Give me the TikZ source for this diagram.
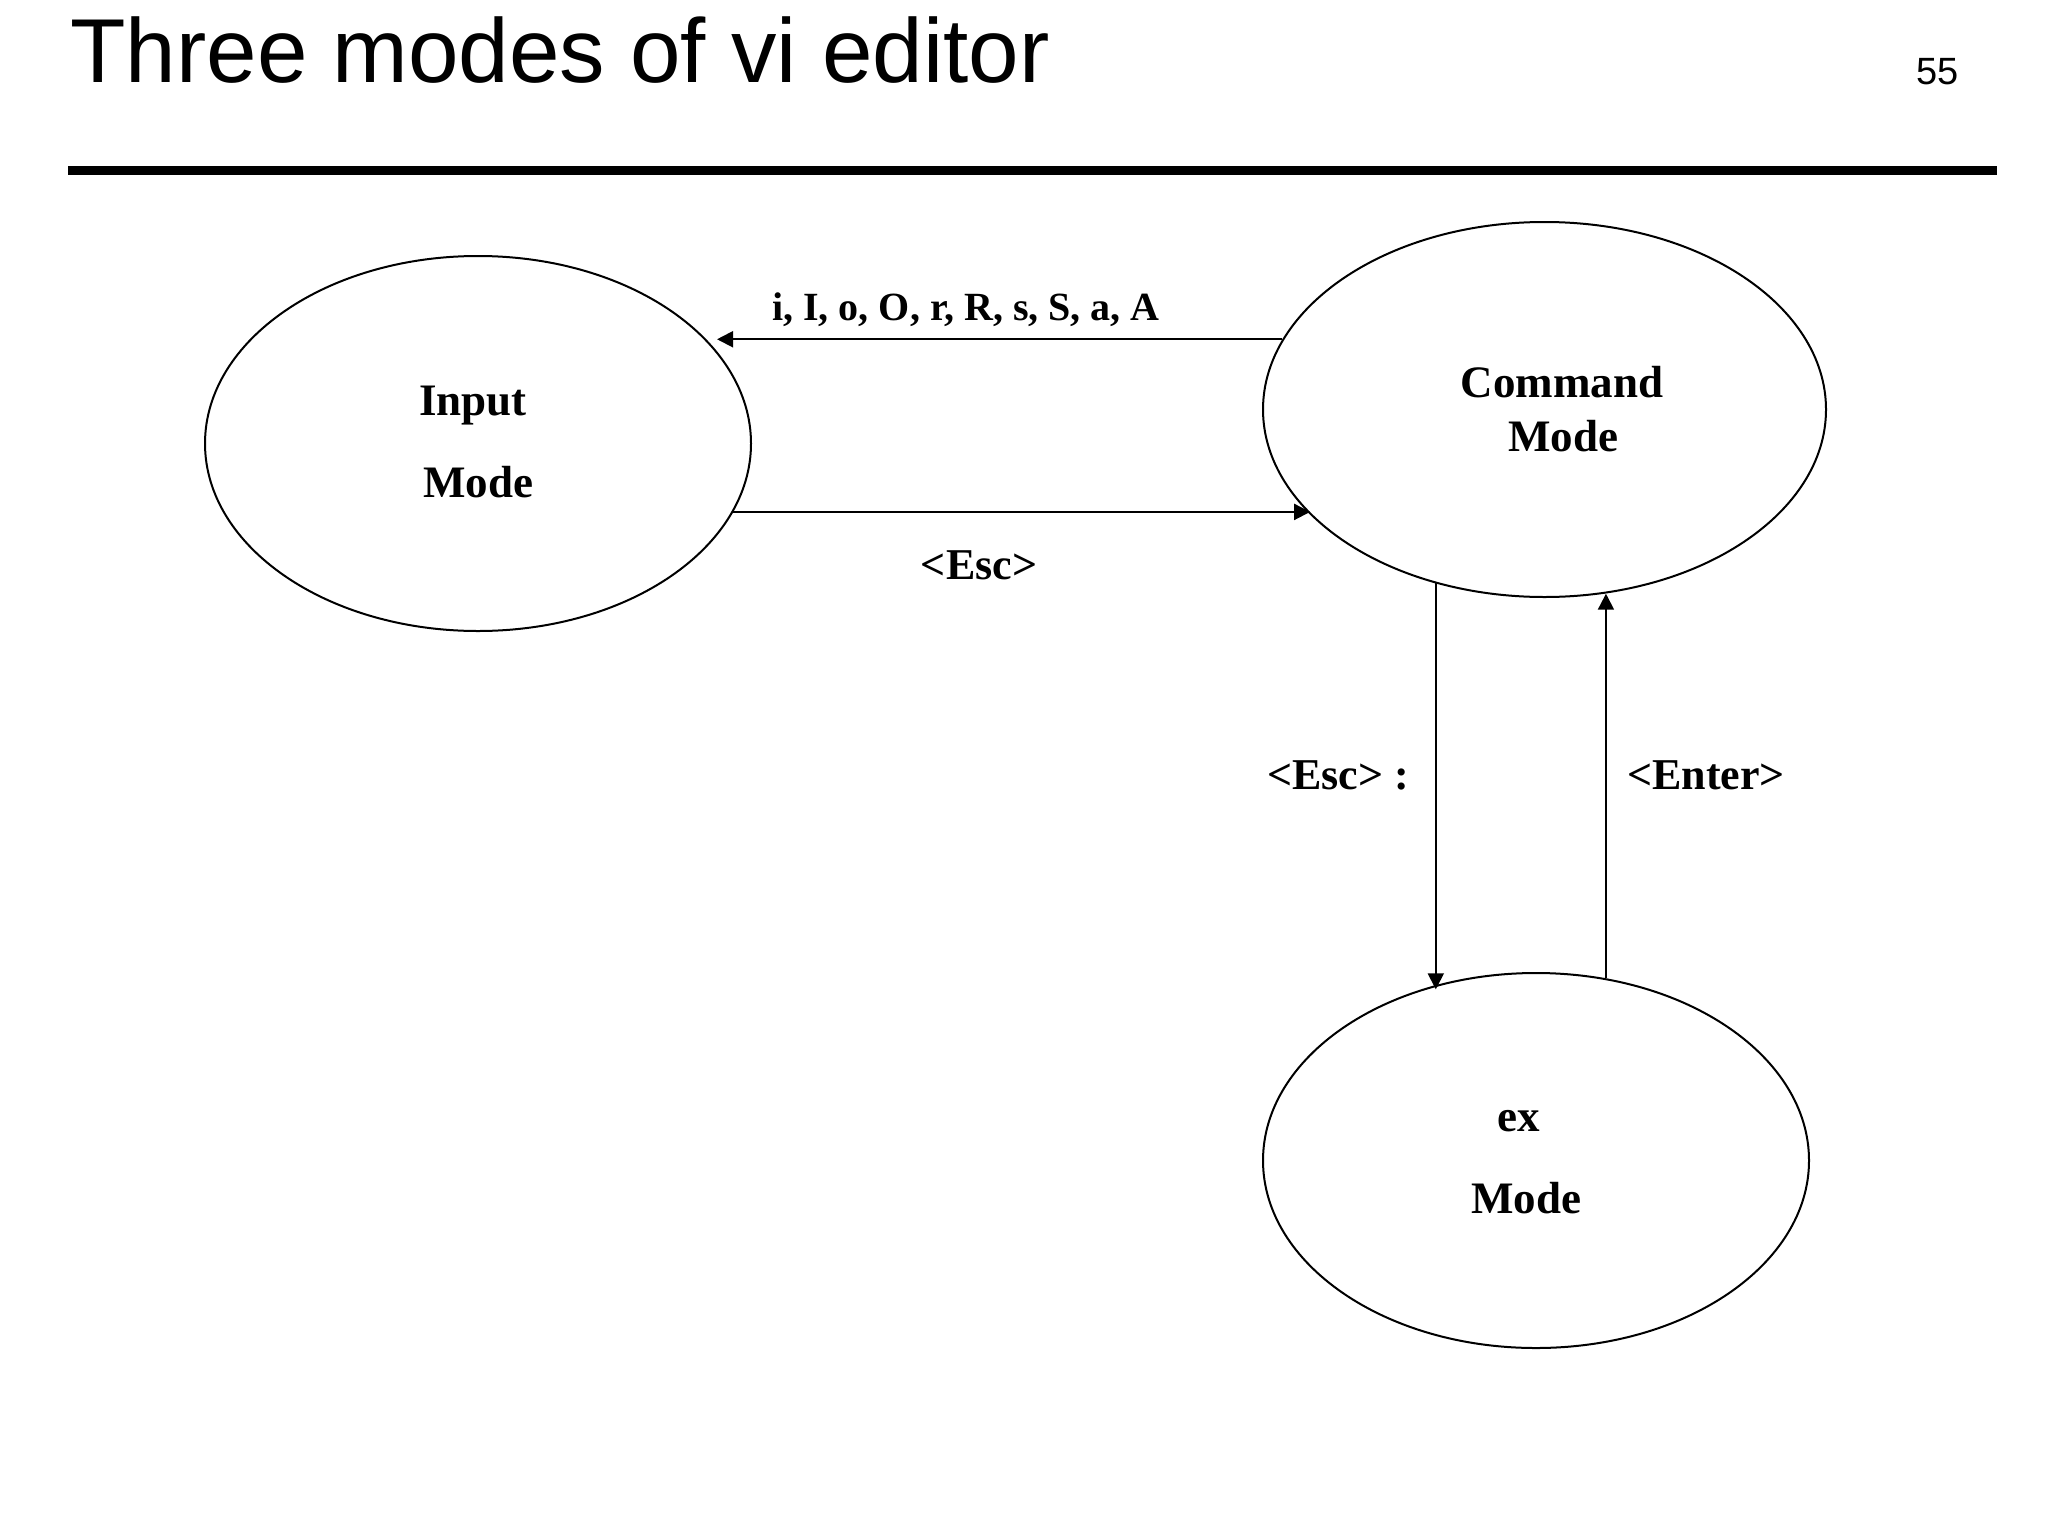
\documentclass[tikz,border=0pt]{standalone}
\usepackage{fontspec}
\setmainfont{Liberation Serif}
\newfontfamily\arialfont{Liberation Sans}
\usetikzlibrary{arrows.meta,shapes.geometric}
\begin{document}
\begin{tikzpicture}[x=0.5pt,y=-0.5pt,
  mode/.style={draw, ellipse, line width=1pt, inner sep=0pt, minimum height=187.5pt},
  lbl/.style={font=\fontsize{22.5pt}{27pt}\selectfont\bfseries, inner sep=0pt, anchor=base},
  elbl/.style={font=\fontsize{22pt}{26pt}\selectfont\bfseries, inner sep=0pt, anchor=base},
  conn/.style={line width=1pt, -{Triangle[length=8pt,width=8pt]}}
]
\fill[white] (0,0) rectangle (2048,1536);
\useasboundingbox (0,0) rectangle (2048,1536);

% title and rule
\node[anchor=base west, inner sep=0pt, font=\arialfont\fontsize{45.4pt}{50pt}\selectfont] (title) at (70,83) {Three modes of vi editor};
\node[anchor=base, inner sep=0pt, font=\arialfont\fontsize{19pt}{22pt}\selectfont] (page) at (1937.5,84) {55};
\draw[line width=4.5pt] (68,170) -- (1997,170);

% modes
\node[mode, minimum width=273pt] (Inp) at (478,443.5) {};
\node[mode, minimum width=281.5pt] (Cmd) at (1544.5,409.5) {};
\node[mode, minimum width=273pt] (Ex) at (1536,1160.5) {};

\node[lbl] (tInp1) at (473,415) {Input};
\node[lbl] (tInp2) at (478,497) {Mode};
\node[lbl] (tCmd1) at (1562,397) {Command};
\node[lbl] (tCmd2) at (1563,451) {Mode};
\node[lbl] (tEx1) at (1519,1131) {ex};
\node[lbl] (tEx2) at (1526,1213) {Mode};

% transitions
\draw[conn, shorten >=4.5pt] (Cmd.165.9) -- (Inp.24.15 |- Cmd.165.9);
\draw[conn, shorten >=-2pt] (Inp.-15.1) -- (Cmd.203.5 |- Inp.-15.1);
\draw[conn, shorten >=-2pt] (Cmd.238) -- (Cmd.238 |- Ex.120.4);
\draw[conn] (Ex.69.5) -- (Ex.69.5 |- Cmd.-72);

\node[elbl, font=\fontsize{20pt}{24pt}\selectfont\bfseries] (lTop) at (966,320) {i, I, o, O, r, R, s, S, a, A};
\node[elbl] (lEsc) at (979,579) {<Esc>};
\node[elbl] (lEscC) at (1338,789) {<Esc> :};
\node[elbl] (lEnter) at (1706,789) {<Enter>};
\end{tikzpicture}
\end{document}
